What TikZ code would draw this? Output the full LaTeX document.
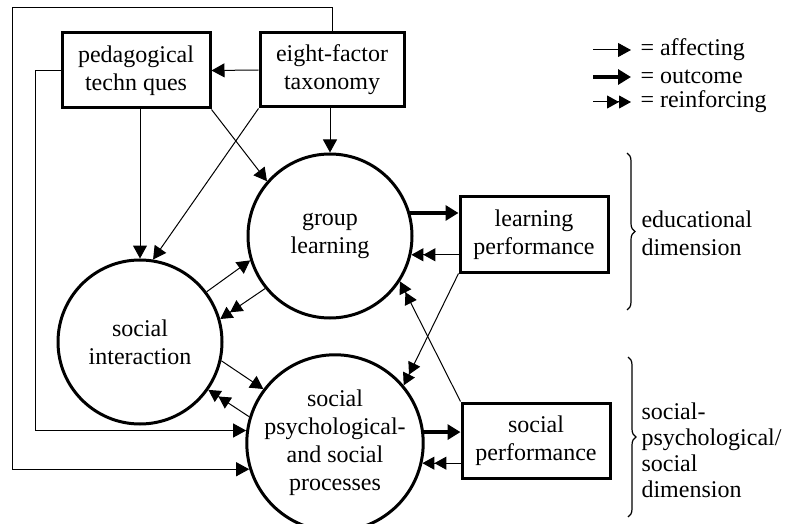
\documentclass[tikz,border=0pt]{standalone}
\usepackage{fontspec}
\setmainfont{Liberation Serif}
\usepackage{tikz}
\usetikzlibrary{arrows.meta}
\usetikzlibrary{decorations.pathreplacing}
\tikzstyle{factorbox} = [draw=black, line width=3pt, rectangle,
minimum width=148pt, minimum height=75pt, align=center, inner sep=2pt]
\tikzstyle{stagecircle} = [draw=black, line width=3pt, circle,
minimum size=164pt, align=center, inner sep=0pt]
\tikzstyle{affecting} = [line width=1pt, -{Triangle[length=13pt,width=14pt]}]
\tikzstyle{outcome} = [line width=4.5pt, -{Triangle[length=13pt,width=15pt]}]
\tikzstyle{reinforcing} = [line width=1pt,
-{Triangle[length=12pt,width=13pt]Triangle[length=12pt,width=13pt]}]
\tikzstyle{dimbrace} = [line width=1.2pt, decorate, decoration={brace, amplitude=8pt}]

\begin{document}
\begin{tikzpicture}[x=1pt, y=-1pt, font=\fontsize{24}{28}\selectfont]
        \useasboundingbox (0,0) rectangle (785,524);
        % factors
        \node [factorbox] (ped) at (136,70.5) {pedagogical\\techn ques};
        \node [factorbox, minimum width=144pt, minimum height=74pt] (ef) at (332,70) {eight-factor\\taxonomy};
        % processes
        \node [stagecircle] (gl) at (330,236) {group\\learning};
        \node [stagecircle] (si) at (140,342) {social\\interaction};
        \node [stagecircle, minimum size=166pt] (sp) at (335,443) {social\\psychological-\\and social\\processes};
        % performances
        \node [factorbox] (lp) at (534,234.5) {learning\\performance};
        \node [factorbox] (spf) at (536,440.5) {social\\performance};

        \draw [affecting] (ef.west) -- (ped.east);
        \draw [affecting] (si.north |- ped.south) -- (si.north);
        \draw [affecting] (gl.north |- ef.south) -- (gl.north);
        \draw [affecting] (ef.south west) -- (si.81);
        \draw [affecting] (ped.south east) -- (gl.139);
        \draw [affecting] (si.37) -- (gl.197);
        \draw [reinforcing] (gl.219) -- (si.16);
        \draw [affecting] (si.-13) -- (sp.143);
        \draw [reinforcing] (sp.163) -- (si.-35);
        \draw [outcome] (gl.16) -- (gl.16 -| lp.west);
        \draw [reinforcing] (gl.-13 -| lp.west) -- (gl.-13);
        \draw [outcome] (sp.7) -- (sp.7 -| spf.west);
        \draw [reinforcing] (sp.-13 -| spf.west) -- (sp.-13);
        \draw [reinforcing] (lp.south west) -- (sp.40);
        \draw [reinforcing] (spf.north west) -- (gl.-33);

        % feedback loops
        \coordinate (loopcorner) at (12,8);
        \draw [affecting] (ped.west) -- ++(-25,0) |- (sp.172);
        \draw [affecting] (ef.north) |- (loopcorner) |- (sp.197);

        % key
        \node [anchor=west] (affkey) at (637,50) {= affecting};
        \node [anchor=west] (outkey) at (637,77) {= outcome};
        \node [anchor=west] (reikey) at (637,102) {= reinforcing};
        \draw [affecting] ([xshift=-44pt]affkey.west) -- ([xshift=-6pt]affkey.west);
        \draw [outcome] ([xshift=-44pt]outkey.west) -- ([xshift=-6pt]outkey.west);
        \draw [reinforcing] ([xshift=-44pt]reikey.west) -- ([xshift=-6pt]reikey.west);

        % dimensions
        \coordinate (edutop) at (627,153);
        \coordinate (edubot) at (627,310);
        \coordinate (soctop) at (628,357);
        \coordinate (socbot) at (628,517);
        \draw [dimbrace] (edutop) -- (edubot);
        \draw [dimbrace] (soctop) -- (socbot);
        \node [anchor=west, align=left] (edudim) at (638,233) {educational\\dimension};
        \node [anchor=west, align=left, font=\fontsize{24}{26}\selectfont] (socdim) at (638,450) {social-\\psychological/\\social\\dimension};
    \end{tikzpicture}
\end{document}
